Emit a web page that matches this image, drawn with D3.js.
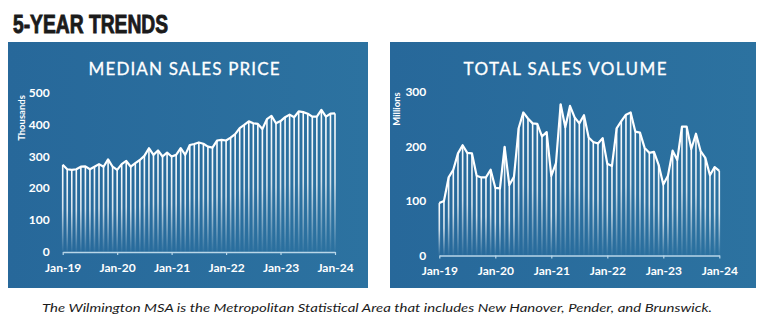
<!DOCTYPE html>
<html>
<head>
<meta charset="utf-8">
<script src="https://cdn.jsdelivr.net/npm/d3@7"></script>
<style>
  body { margin: 0; background: #fff; }
  svg { display: block; }
</style>
</head>
<body>
<svg width="764" height="326"></svg>
<script>
// monthly values, Jan-19 .. Jan-24 (61 months)
var priceValues = [273,259,257,259,267,268,259,267,275,267,
                   290,267,257,275,285,267,278,288,301,325,
                   304,318,299,311,299,304,325,304,335,338,
                   343,339,330,327,349,351,349,358,369,388,
                   398,409,403,401,385,416,426,403,410,422,
                   430,422,440,438,433,424,424,445,424,433,434];
var volumeValues = [96,100,143,157,187,202,188,187,146,143,
                    143,157,124,123,199,129,144,233,262,251,
                    242,241,218,226,146,169,277,235,274,253,
                    242,257,216,208,205,215,168,164,233,246,
                    258,262,227,225,197,188,190,166,130,146,
                    192,175,236,236,195,223,191,179,147,162,155];
var xTickIndex = [0, 12, 24, 36, 48, 60];
var xTickLabels = ["Jan-19", "Jan-20", "Jan-21", "Jan-22", "Jan-23", "Jan-24"];
var priceTicks = [0, 100, 200, 300, 400, 500];
var volumeTicks = [0, 100, 200, 300];

var svg = d3.select("svg");
var defs = svg.append("defs");

var pg = defs.append("linearGradient").attr("id", "panelFill")
    .attr("x1", 0).attr("y1", 0).attr("x2", 1).attr("y2", 0);
pg.append("stop").attr("offset", 0).attr("stop-color", "#27689a");
pg.append("stop").attr("offset", 1).attr("stop-color", "#2c72a0");

var bg = defs.append("linearGradient").attr("id", "barFade")
    .attr("x1", 0).attr("y1", 0).attr("x2", 0).attr("y2", 1);
bg.append("stop").attr("offset", 0).attr("stop-color", "#fff").attr("stop-opacity", 1);
bg.append("stop").attr("offset", 0.5).attr("stop-color", "#fff").attr("stop-opacity", 0.8);
bg.append("stop").attr("offset", 1).attr("stop-color", "#fff").attr("stop-opacity", 0.02);

// heading
svg.append("text")
    .attr("x", 13).attr("y", 33)
    .attr("font-family", "'Liberation Sans Narrow', 'Liberation Sans', sans-serif")
    .attr("font-weight", "bold")
    .attr("font-size", 25)
    .attr("fill", "#1b1b1b")
    .attr("stroke", "#1b1b1b")
    .attr("stroke-width", 0.9)
    .attr("textLength", 155)
    .attr("lengthAdjust", "spacingAndGlyphs")
    .text("5-YEAR TRENDS");

drawPanel({
  left: 8, right: 368, top: 42, bottom: 288,
  title: "MEDIAN SALES PRICE", titleLen: 191, titleX: 184,
  unit: "Thousands", unitX: 22, unitY: 118,
  x0: 62.7, x1: 335, base: 252, topY: 92.3,
  max: 500, ticks: priceTicks, values: priceValues
});

drawPanel({
  left: 390, right: 756, top: 42, bottom: 288,
  title: "TOTAL SALES VOLUME", titleLen: 203, titleX: 565,
  unit: "Millions", unitX: 397, unitY: 109,
  x0: 439.3, x1: 719.3, base: 255.5, topY: 91.7,
  max: 300, ticks: volumeTicks, values: volumeValues
});

// footnote
svg.append("text")
    .attr("x", 377).attr("y", 312)
    .attr("text-anchor", "middle")
    .attr("font-family", "Lato, 'Open Sans', sans-serif")
    .attr("font-style", "italic")
    .attr("font-size", 12)
    .attr("fill", "#1b1b1b")
    .attr("textLength", 670)
    .attr("lengthAdjust", "spacingAndGlyphs")
    .text("The Wilmington MSA is the Metropolitan Statistical Area that includes New Hanover, Pender, and Brunswick.");

function drawPanel(o) {
  var g = svg.append("g");

  g.append("rect")
      .attr("x", o.left).attr("y", o.top)
      .attr("width", o.right - o.left).attr("height", o.bottom - o.top)
      .attr("fill", "url(#panelFill)");

  g.append("text")
      .attr("x", o.titleX).attr("y", 75)
      .attr("text-anchor", "middle")
      .attr("font-family", "Lato, sans-serif")
      .attr("font-size", 17)
      .attr("fill", "#fff")
      .attr("stroke", "#fff")
      .attr("stroke-width", 0.3)
      .attr("textLength", o.titleLen)
      .attr("lengthAdjust", "spacing")
      .text(o.title);

  var x = d3.scaleLinear().domain([0, 60]).range([o.x0, o.x1]);
  var y = d3.scaleLinear().domain([0, o.max]).range([o.base, o.topY]);

  // fading bars under the line
  g.selectAll("rect.bar")
    .data(o.values)
    .enter().append("rect")
      .attr("class", "bar")
      .attr("x", function(d, i) { return x(i) - 0.8; })
      .attr("width", 1.6)
      .attr("y", function(d) { return y(d); })
      .attr("height", function(d) { return y(0) - y(d); })
      .attr("fill", "url(#barFade)");

  var line = d3.line()
      .x(function(d, i) { return x(i); })
      .y(function(d) { return y(d); });

  g.append("path")
      .datum(o.values)
      .attr("d", line)
      .attr("fill", "none")
      .attr("stroke", "#fff")
      .attr("stroke-width", 2.2)
      .attr("stroke-linejoin", "round");

  // x axis
  var xa = g.append("g")
      .attr("transform", "translate(0," + o.base + ")")
      .call(d3.axisBottom(x)
        .tickValues(xTickIndex)
        .tickFormat(function(d, i) { return xTickLabels[i]; })
        .tickSize(3)
        .tickSizeOuter(0)
        .tickPadding(8));
  xa.select(".domain").attr("stroke", "#b9d6e8").attr("stroke-width", 1.5);
  xa.selectAll(".tick line").attr("stroke", "#b9d6e8").attr("stroke-width", 1.2);
  xa.selectAll(".tick text")
      .attr("fill", "#fff")
      .attr("font-family", "Lato, sans-serif")
      .attr("font-weight", "bold")
      .attr("font-size", 12);

  // y axis labels only
  var ya = g.append("g")
      .attr("transform", "translate(" + o.x0 + ",0)")
      .call(d3.axisLeft(y).tickValues(o.ticks).tickSize(0).tickPadding(13));
  ya.select(".domain").remove();
  ya.selectAll(".tick text")
      .attr("fill", "#fff")
      .attr("font-family", "Lato, sans-serif")
      .attr("font-weight", "bold")
      .attr("font-size", 12);

  g.append("text")
      .attr("transform", "translate(" + o.unitX + "," + o.unitY + ") rotate(-90)")
      .attr("text-anchor", "middle")
      .attr("dy", "0.35em")
      .attr("font-family", "Lato, sans-serif")
      .attr("font-weight", "bold")
      .attr("font-size", 9.5)
      .attr("fill", "#fff")
      .text(o.unit);
}
</script>
</body>
</html>
